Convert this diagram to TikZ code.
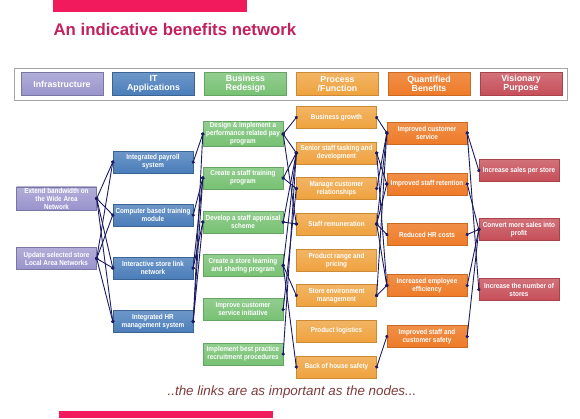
\documentclass[tikz,border=0pt]{standalone}
\usepackage{fontspec}
\setmainfont{Liberation Sans}
\newfontfamily\boxfont[FakeStretch=0.88]{Liberation Sans}
\usetikzlibrary{arrows.meta}

\definecolor{infracol}{HTML}{9893CC}
\definecolor{itcol}{HTML}{4A7DBA}
\definecolor{redescol}{HTML}{77C173}
\definecolor{proccol}{HTML}{EFA23E}
\definecolor{quantcol}{HTML}{EE7B28}
\definecolor{viscol}{HTML}{C64E58}
\definecolor{linkcol}{HTML}{1B1B63}
\definecolor{titlecol}{HTML}{C2205E}
\definecolor{barcol}{HTML}{F01A5C}
\definecolor{notecol}{HTML}{7E3B3B}

\tikzset{
  box/.style={minimum width=80pt, minimum height=22pt, inner sep=1pt,
    align=center, text=white,
    font=\boxfont\bfseries\fontsize{7.2}{8}\selectfont},
  infra/.style={box, top color=infracol!75!white, bottom color=infracol, draw=infracol!80!black},
  itapp/.style={box, top color=itcol!80!white, bottom color=itcol, draw=itcol!80!black},
  redes/.style={box, top color=redescol!80!white, bottom color=redescol, draw=redescol!85!black},
  procf/.style={box, top color=proccol!80!white, bottom color=proccol, draw=proccol!85!black},
  quant/.style={box, top color=quantcol!85!white, bottom color=quantcol, draw=quantcol!85!black},
  vision/.style={box, top color=viscol!80!white, bottom color=viscol, draw=viscol!85!black},
  legend/.style={minimum width=82pt, minimum height=23pt, inner sep=1pt,
    font=\bfseries\fontsize{8.8}{9.4}\selectfont},
  link/.style={linkcol, line width=0.9pt,
    {Circle[length=3.2pt]}-{Circle[length=3.2pt]},
    shorten <=-1.6pt, shorten >=-1.6pt}
}

\begin{document}
\begin{tikzpicture}[x=1pt, y=-1pt]
\useasboundingbox (0,0) rectangle (580,418);

% header and footer bars
\fill[barcol] (53,0) rectangle (247,12);
\fill[barcol] (59,411) rectangle (273,418);
\node[anchor=west, text=titlecol, font=\bfseries\fontsize{16.8}{18}\selectfont] (title) at (50,29) {An indicative benefits network};

% legend
\draw[gray!70, line width=1pt, fill=white] (14,68) rectangle (567,100);
\node[infra, legend] (legInfra) at (62,84) {Infrastructure};
\node[itapp, legend] (legIT) at (153.5,84) {IT\\Applications};
\node[redes, legend] (legRedes) at (245.5,84) {Business\\Redesign};
\node[procf, legend] (legProc) at (337.5,84) {Process\\/Function};
\node[quant, legend] (legQuant) at (429,84) {Quantified\\Benefits};
\node[vision, legend] (legVision) at (521,84) {Visionary\\Purpose};

% infrastructure
\node[infra] (ext) at (56.5,198.5) {Extend bandwidth on\\the Wide Area\\Network};
\node[infra] (upd) at (56.5,258.5) {Update selected store\\Local Area Networks};

% IT applications
\node[itapp] (pay) at (153,162) {Integrated payroll\\system};
\node[itapp] (cbt) at (153,215) {Computer based training\\module};
\node[itapp] (isl) at (153,268) {Interactive store link\\network};
\node[itapp] (hrm) at (153,321.5) {Integrated HR\\management system};

% business redesign
\node[redes] (perf) at (243,134) {Design \& implement a\\performance related pay\\program};
\node[redes] (train) at (243,178) {Create a staff training\\program};
\node[redes] (appr) at (243,222) {Develop a staff appraisal\\scheme};
\node[redes] (learn) at (243,265.5) {Create a store learning\\and sharing program};
\node[redes] (cust) at (243,309.5) {Improve customer\\service initiative};
\node[redes] (recr) at (243,354) {Implement best practice\\recruitment procedures};

% process / function
\node[procf] (grow) at (336.5,117.5) {Business growth};
\node[procf] (senior) at (336.5,153) {Senior staff tasking and\\development};
\node[procf] (crm) at (336.5,188.5) {Manage customer\\relationships};
\node[procf] (remun) at (336.5,224) {Staff remuneration};
\node[procf] (range) at (336.5,260.5) {Product range and\\pricing};
\node[procf] (env) at (336.5,295.5) {Store environment\\management};
\node[procf] (logi) at (336.5,331) {Product logistics};
\node[procf] (safe) at (336.5,367) {Back of house safety};

% quantified benefits
\node[quant] (ics) at (427,133) {Improved customer\\service};
\node[quant] (ret) at (427,184) {Improved staff retention};
\node[quant] (hrc) at (427,234.5) {Reduced HR costs};
\node[quant] (eff) at (427,285.5) {Increased employee\\efficiency};
\node[quant] (saf) at (427,336.5) {Improved staff and\\customer safety};

% visionary purpose
\node[vision] (sales) at (519,170.5) {Increase sales per store};
\node[vision] (profit) at (519,229.5) {Convert more sales into\\profit};
\node[vision] (stores) at (519,289.5) {Increase the number of\\stores};

% links
\foreach \a/\b in {ext/pay, ext/cbt, ext/isl, ext/hrm,
                   upd/pay, upd/cbt, upd/isl, upd/hrm,
                   pay/perf, cbt/train, isl/train, isl/appr,
                   hrm/perf, hrm/train, hrm/appr,
                   perf/grow, perf/senior, perf/remun, train/senior, train/crm,
                   appr/remun, appr/senior, learn/senior, learn/env, learn/safe,
                   cust/crm, recr/senior,
                   grow/ics, crm/ics, remun/ics, senior/ret, senior/eff,
                   remun/ret, remun/hrc, remun/eff, env/eff, env/ics, safe/saf,
                   ics/sales, ics/stores, ret/profit, hrc/profit, eff/profit, saf/profit}
  \draw[link] (\a.east) -- (\b.west);

\node[text=notecol, font=\itshape\fontsize{13.4}{15}\selectfont] (note) at (292,392) {..the links are as important as the nodes...};
\end{tikzpicture}
\end{document}
